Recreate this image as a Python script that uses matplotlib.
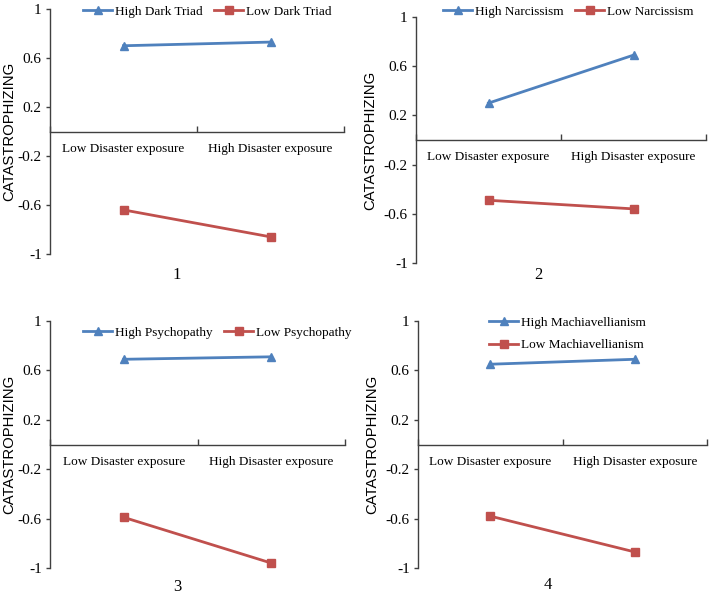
import matplotlib
matplotlib.use("Agg")
import matplotlib.pyplot as plt

categories = ["Low Disaster exposure", "High Disaster exposure"]
yticks = [-1, -0.6, -0.2, 0.2, 0.6, 1]
ytick_labels = ["-1", "-0.6", "-0.2", "0.2", "0.6", "1"]
ylabel = "CATASTROPHIZING"

panel_names = ["1", "2", "3", "4"]
high_labels = ["High Dark Triad", "High Narcissism", "High Psychopathy", "High Machiavellianism"]
low_labels = ["Low Dark Triad", "Low Narcissism", "Low Psychopathy", "Low Machiavellianism"]
high_values = [[0.70, 0.73], [0.30, 0.69], [0.69, 0.71], [0.65, 0.69]]
low_values = [[-0.64, -0.86], [-0.49, -0.56], [-0.59, -0.96], [-0.58, -0.87]]

W, H = 709, 594
blue = "#4F81BD"
red = "#C0504D"
axis_color = "#404040"
serif = ["Liberation Serif", "DejaVu Serif"]
sans = ["Liberation Sans", "DejaVu Sans"]

# axes boxes in pixels: left, right, top, bottom
boxes = [(50, 344, 9, 254), (416, 706, 17, 263), (50, 345, 321, 568), (418, 707, 321, 568)]
num_pos = [(177, 275), (538, 275), (177, 587), (548, 585)]
ylabel_x = [9, 370, 9, 372]
legend_anchor = [(83, 12), (443, 12), (83, 333), (489, 334)]

fig = plt.figure(figsize=(W / 100, H / 100), dpi=100)

for i in range(4):
    l, r, t, b = boxes[i]
    ax = fig.add_axes([l / W, 1 - b / H, (r - l) / W, (b - t) / H])
    xs = [0.5, 1.5]
    ax.plot(xs, high_values[i], color=blue, lw=2, marker="^", ms=6, label=high_labels[i])
    ax.plot(xs, low_values[i], color=red, lw=2, marker="s", ms=6, label=low_labels[i])
    ax.set_xlim(0, 2)
    ax.set_ylim(-1, 1)
    for s in ["top", "right"]:
        ax.spines[s].set_visible(False)
    ax.spines["bottom"].set_position(("data", 0))
    for s in ["left", "bottom"]:
        ax.spines[s].set_color(axis_color)
        ax.spines[s].set_linewidth(1)
    ax.set_yticks(yticks)
    ax.set_yticklabels(ytick_labels, fontfamily=serif, fontsize=11)
    ax.tick_params(axis="y", direction="out", length=3, width=1, color=axis_color, pad=3)
    ax.set_xticks([0, 1, 2])
    ax.set_xticklabels(["", "", ""])
    ax.tick_params(axis="x", which="major", direction="in", length=4, width=1, color=axis_color)
    ax.set_xticks(xs, minor=True)
    ax.set_xticklabels(categories, minor=True, fontfamily=serif, fontsize=9.5)
    ax.tick_params(axis="x", which="minor", length=0, pad=8)
    fig.text(ylabel_x[i] / W, 1 - ((t + b) / 2) / H, ylabel, rotation=90, ha="center", va="center",
             fontfamily=sans, fontsize=10.7)
    ax_x, ax_y = legend_anchor[i]
    common = dict(loc="center left", bbox_to_anchor=(ax_x / W, 1 - ax_y / H),
                  bbox_transform=fig.transFigure, frameon=False,
                  prop={"family": serif, "size": 9.5}, handlelength=2.2, handletextpad=0.2,
                  borderpad=0, borderaxespad=0)
    if i == 3:
        ax.legend(ncol=1, labelspacing=0.75, **common)
    else:
        ax.legend(ncol=2, columnspacing=0.9, **common)
    fig.text(num_pos[i][0] / W, 1 - num_pos[i][1] / H, panel_names[i], ha="center", va="center",
             fontfamily=serif, fontsize=12)

fig.savefig("out.png", dpi=100)
